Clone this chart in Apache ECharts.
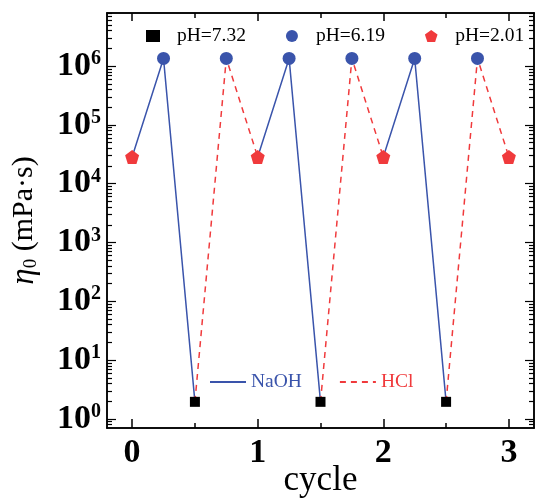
<!DOCTYPE html>
<html>
<head>
<meta charset="utf-8">
<script src="https://cdn.jsdelivr.net/npm/echarts@6/dist/echarts.min.js"></script>
<style>html,body{margin:0;padding:0;background:#fff}#c{width:536px;height:498px}</style>
</head>
<body>
<div id="c"></div>
<script>
// ---- data ----
const redX = [0, 1, 2, 3];                       // pH=2.01
const redY = [2.85e4, 2.85e4, 2.85e4, 2.85e4];
const blueX = [0.25, 0.75, 1.25, 1.75, 2.25, 2.75]; // pH=6.19
const blueY = [1.35e6, 1.35e6, 1.35e6, 1.35e6, 1.35e6, 1.35e6];
const blackX = [0.5, 1.5, 2.5];                  // pH=7.32
const blackY = [1.95, 1.95, 1.95];
const xTicks = [0, 1, 2, 3];
const xMinorTicks = [0.5, 1.5, 2.5];
const yTicks = [1, 10, 100, 1000, 1e4, 1e5, 1e6];

const FONT = 'Liberation Serif';
const BLUE = '#3a54ab';
const RED = '#f03a3c';
const Y_MIN = 0.7, Y_MAX = 8e6, X_MIN = -0.2, X_MAX = 3.2;

const yMinor = [0.8, 0.9];
for (let k = 0; k <= 6; k++) for (let m = 2; m <= 9; m++) {
  const v = m * Math.pow(10, k);
  if (v <= Y_MAX) yMinor.push(v);
}

const pairs = (xs, ys) => xs.map((x, i) => [x, ys[i]]);
const lineSeries = [];
for (let k = 0; k < blackX.length; k++) {
  lineSeries.push({
    name: 'NaOH', type: 'line', symbol: 'none', z: 2,
    lineStyle: { color: BLUE, width: 1.5 }, itemStyle: { color: BLUE },
    data: [[redX[k], redY[k]], [blueX[2 * k], blueY[2 * k]], [blackX[k], blackY[k]]]
  });
  lineSeries.push({
    name: 'HCl', type: 'line', symbol: 'none', z: 2,
    lineStyle: { color: RED, width: 1.5, type: [6, 5] }, itemStyle: { color: RED },
    data: [[blackX[k], blackY[k]], [blueX[2 * k + 1], blueY[2 * k + 1]], [redX[k + 1], redY[k + 1]]]
  });
}

const axisLine = { show: true, onZero: false, lineStyle: { color: '#000', width: 1.5 } };
function xAx(pos, vals, len, labels) {
  return {
    type: 'value', position: pos, min: X_MIN, max: X_MAX, nameMoveOverlap: false,
    axisLine: axisLine, splitLine: { show: false },
    axisTick: { show: true, inside: true, length: len, customValues: vals, lineStyle: { color: '#000', width: 1.5 } },
    axisLabel: labels ? { show: true, customValues: vals, margin: 8, fontFamily: FONT, fontWeight: 'bold', fontSize: 34, color: '#000' } : { show: false }
  };
}
function yAx(pos, vals, len, labels) {
  return {
    type: 'log', logBase: 10, position: pos, min: Y_MIN, max: Y_MAX, nameMoveOverlap: false,
    axisLine: axisLine, splitLine: { show: false }, minorTick: { show: false },
    axisTick: { show: true, inside: true, length: len, customValues: vals, lineStyle: { color: '#000', width: 1.2 } },
    axisLabel: labels ? {
      show: true, customValues: vals, margin: 6,
      formatter: v => '{b|10}{s|' + Math.round(Math.log10(v)) + '}',
      rich: {
        b: { fontFamily: FONT, fontWeight: 'bold', fontSize: 34, lineHeight: 34, color: '#000' },
        s: { fontFamily: FONT, fontWeight: 'bold', fontSize: 20, lineHeight: 10, verticalAlign: 'top', color: '#000' }
      }
    } : { show: false }
  };
}

const yMain = yAx('left', yTicks, 9, true);
yMain.name = '{e|η}{sub|0}{t| (mPa·s)}';
yMain.nameLocation = 'middle';
yMain.nameGap = 66;
yMain.nameTextStyle = {
  color: '#000',
  rich: {
    e: { fontFamily: FONT, fontStyle: 'italic', fontSize: 33, lineHeight: 34, color: '#000' },
    sub: { fontFamily: FONT, fontSize: 19, lineHeight: 19, verticalAlign: 'bottom', color: '#000' },
    t: { fontFamily: FONT, fontSize: 30, lineHeight: 34, color: '#000' }
  }
};
const xMain = xAx('bottom', xTicks, 9, true);
xMain.name = 'cycle';
xMain.nameLocation = 'middle';
xMain.nameGap = 35;
xMain.nameTextStyle = { fontFamily: FONT, fontSize: 35, color: '#000' };

const hideSym = { color: 'transparent', borderColor: 'transparent', opacity: 0 };
const option = {
  backgroundColor: '#fff',
  animation: false,
  grid: { left: 107, right: 2, top: 13, bottom: 70, containLabel: false, outerBoundsMode: 'none' },
  xAxis: [xMain, xAx('bottom', xMinorTicks, 5, false), xAx('top', xTicks, 8, false), xAx('top', xMinorTicks, 5, false)],
  yAxis: [yMain, yAx('left', yMinor, 5, false), yAx('right', yTicks, 9, false), yAx('right', yMinor, 5, false)],
  legend: [
    {
      left: 146, top: 26, padding: 0, orient: 'horizontal', itemGap: 40, itemWidth: 14, itemHeight: 12,
      textStyle: { fontFamily: FONT, fontSize: 19.5, color: '#000', padding: [0, 0, 0, 12] },
      data: ['pH=7.32', 'pH=6.19', 'pH=2.01']
    },
    {
      left: 209, top: 372, padding: 0, orient: 'horizontal', itemGap: 37, itemWidth: 36, itemHeight: 14,
      textStyle: { fontFamily: FONT, fontSize: 19.5 },
      data: [
        { name: 'NaOH', textStyle: { color: BLUE }, itemStyle: hideSym },
        { name: 'HCl', textStyle: { color: RED }, itemStyle: hideSym }
      ]
    }
  ],
  series: lineSeries.concat([
    { name: 'pH=7.32', type: 'scatter', symbol: 'rect', symbolSize: 10, z: 5, itemStyle: { color: '#000', opacity: 1 }, data: pairs(blackX, blackY) },
    { name: 'pH=6.19', type: 'scatter', symbol: 'circle', symbolSize: 13, z: 5, itemStyle: { color: BLUE, opacity: 1 }, data: pairs(blueX, blueY) },
    { name: 'pH=2.01', type: 'scatter', symbol: 'path://M0,-10 L9.51,-3.09 L5.88,8.09 L-5.88,8.09 L-9.51,-3.09 Z', symbolSize: 14, z: 5, itemStyle: { color: RED, opacity: 1 }, data: pairs(redX, redY) }
  ])
};
const chart = echarts.init(document.getElementById('c'), null, { renderer: 'canvas' });
chart.setOption(option);
</script>
</body>
</html>
